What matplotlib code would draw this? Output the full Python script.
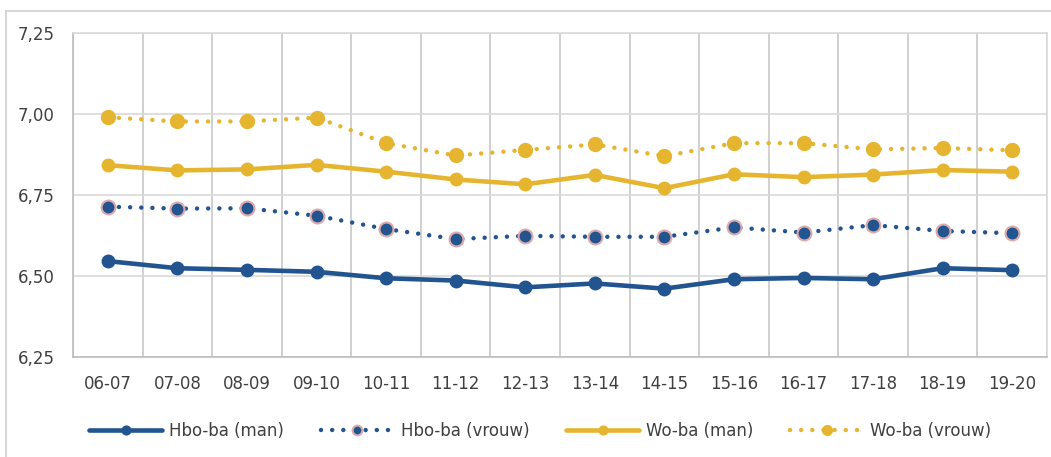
import matplotlib
matplotlib.use("Agg")
import matplotlib.pyplot as plt
from matplotlib.lines import Line2D

categories = ["06-07", "07-08", "08-09", "09-10", "10-11", "11-12", "12-13",
              "13-14", "14-15", "15-16", "16-17", "17-18", "18-19", "19-20"]
hbo_man = [6.546, 6.524, 6.519, 6.513, 6.493, 6.486, 6.465,
           6.477, 6.461, 6.490, 6.494, 6.490, 6.524, 6.518]
hbo_vrouw = [6.714, 6.708, 6.709, 6.686, 6.645, 6.614, 6.624,
             6.621, 6.621, 6.650, 6.634, 6.657, 6.639, 6.632]
wo_man = [6.842, 6.826, 6.829, 6.843, 6.822, 6.798, 6.783,
          6.812, 6.771, 6.814, 6.805, 6.813, 6.827, 6.822]
wo_vrouw = [6.990, 6.977, 6.977, 6.989, 6.910, 6.872, 6.889,
            6.906, 6.870, 6.910, 6.910, 6.891, 6.895, 6.888]
y_ticks = [6.25, 6.50, 6.75, 7.00, 7.25]
y_tick_labels = ["6,25", "6,50", "6,75", "7,00", "7,25"]

plt.rcParams['font.family'] = ['DejaVu Sans']
txt = '#404040'
blue = '#22548f'
yellow = '#e6b530'

W, H = 1051, 457
fig = plt.figure(figsize=(W / 100, H / 100), dpi=100)
ax = fig.add_axes([73 / W, 1 - 357 / H, (1047 - 73) / W, 324 / H])

x = list(range(len(categories)))
dot = (0, (0.01, 2.5))
ax.plot(x, hbo_man, color=blue, lw=3.3, marker='o', ms=9,
        solid_joinstyle='round', solid_capstyle='round', label='Hbo-ba (man)', zorder=3)
ax.plot(x, hbo_vrouw, color=blue, lw=3.2, ls=dot, dash_capstyle='round',
        marker='o', ms=10, mfc=blue, mec='#dcaaaa', mew=1.5,
        label='Hbo-ba (vrouw)', zorder=3)
ax.plot(x, wo_man, color=yellow, lw=3.3, marker='o', ms=9,
        solid_joinstyle='round', solid_capstyle='round', label='Wo-ba (man)', zorder=3)
ax.plot(x, wo_vrouw, color=yellow, lw=3.2, ls=dot, dash_capstyle='round',
        marker='o', ms=10, label='Wo-ba (vrouw)', zorder=3)

ax.set_xlim(-0.5, len(categories) - 0.5)
ax.set_ylim(6.25, 7.25)
ax.set_xticks(x)
ax.set_xticklabels(categories)
ax.set_xticks([i - 0.5 for i in range(len(categories) + 1)], minor=True)
ax.set_yticks(y_ticks)
ax.set_yticklabels(y_tick_labels)
ax.tick_params(axis='both', which='both', length=0, labelsize=12, colors=txt)
ax.tick_params(axis='y', pad=13)
ax.tick_params(axis='x', pad=13)
ax.grid(axis='y', which='major', color='#d9d9d9', lw=1.2)
ax.grid(axis='x', which='minor', color='#c8c8c8', lw=1.2)
ax.set_axisbelow(True)
for s in ['top', 'right']:
    ax.spines[s].set_color('#d9d9d9')
for s in ['left', 'bottom']:
    ax.spines[s].set_color('#bcbcbc')
for s in ax.spines.values():
    s.set_linewidth(1.2)

leg = fig.legend(loc='center', bbox_to_anchor=(540 / W, 1 - 431 / H), ncol=4,
                 frameon=False, fontsize=12, handlelength=4.4, handletextpad=0.4,
                 columnspacing=2.2, markerscale=0.7)
for t in leg.get_texts():
    t.set_color(txt)

# outer chart border
fig.add_artist(Line2D([5.5 / W, 5.5 / W], [0, 1 - 10.5 / H], color='#d0d0d0', lw=1.2))
fig.add_artist(Line2D([5.5 / W, 1], [1 - 10.5 / H, 1 - 10.5 / H], color='#d0d0d0', lw=1.2))

fig.savefig('out.png', dpi=100)
